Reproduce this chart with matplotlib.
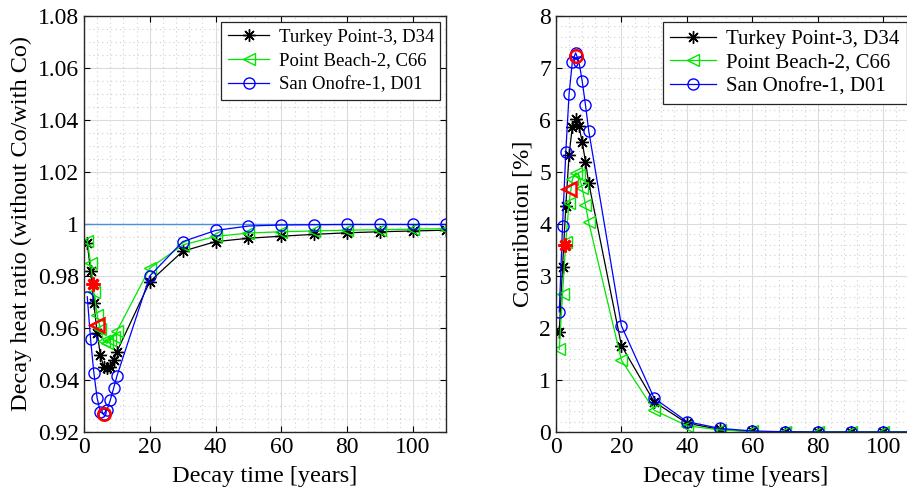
import matplotlib.pyplot as plt
from matplotlib.ticker import MultipleLocator

plt.rcParams['font.family'] = ['Liberation Serif', 'DejaVu Serif']
plt.rcParams['mathtext.fontset'] = 'stix'

# decay times [years]
t = [1, 2, 3, 4, 5, 6, 7, 8, 9, 10, 20, 30, 40, 50, 60, 70, 80, 90, 100, 110]

# decay heat ratio (without Co / with Co)
ratio_tp = [0.9926, 0.982, 0.9695, 0.958, 0.9496, 0.9449, 0.9445, 0.9451, 0.9477, 0.9509,
            0.9778, 0.9895, 0.9932, 0.9945, 0.9953, 0.996, 0.9966, 0.997, 0.9973, 0.9976]
ratio_pb = [0.9935, 0.985, 0.974, 0.965, 0.9595, 0.955, 0.9541, 0.9554, 0.9567, 0.9588,
            0.983, 0.9919, 0.9952, 0.9965, 0.997, 0.9973, 0.9976, 0.9978, 0.998, 0.9982]
ratio_so = [0.972, 0.9557, 0.9428, 0.933, 0.9276, 0.927, 0.9285, 0.9323, 0.9368, 0.9415,
            0.980, 0.9932, 0.9975, 0.9992, 0.9996, 0.9997, 0.9998, 0.9998, 0.9998, 0.9998]

# Co-60 contribution [%]
contr_tp = [1.93, 3.17, 4.35, 5.33, 5.87, 6.02, 5.88, 5.58, 5.2, 4.79,
            1.66, 0.58, 0.17, 0.05, 0.01, 0.005, 0.0, 0.0, 0.0, 0.0]
contr_pb = [1.59, 2.65, 3.66, 4.41, 4.86, 4.98, 4.94, 4.69, 4.37, 4.03,
            1.38, 0.42, 0.12, 0.04, 0.01, 0.0, 0.0, 0.0, 0.0, 0.0]
contr_so = [2.31, 3.96, 5.39, 6.5, 7.12, 7.29, 7.12, 6.75, 6.29, 5.79,
            2.04, 0.65, 0.2, 0.07, 0.02, 0.005, 0.0, 0.0, 0.0, 0.0]

# actual cooling time of each assembly (highlighted in red)
t_mark = [2.6, 4.0, 6.2]
ratio_mark = [0.977, 0.961, 0.927]
contr_mark = [3.6, 4.67, 7.23]

labels = ['Turkey Point-3, D34', 'Point Beach-2, C66', 'San Onofre-1, D01']
asterisk = (8, 2, 0)
styles = [dict(color='black', marker=asterisk, ms=9, mew=1.0),
          dict(color='#00e600', marker='<', ms=8, mfc='none'),
          dict(color='blue', marker='o', ms=8, mfc='none')]
red_styles = [dict(marker=asterisk, ms=10, mew=2.0), dict(marker='<', ms=10, mfc='none', mew=1.8),
              dict(marker='o', ms=9, mfc='none', mew=1.8)]

fig = plt.figure(figsize=(9.07, 4.96), dpi=100)
ax1 = fig.add_axes([0.0926, 0.129, 0.399, 0.839])
ax2 = fig.add_axes([0.613, 0.129, 0.397, 0.839])

for ax in (ax1, ax2):
    ax.set_axisbelow(True)
    ax.grid(which='major', color='#dcdcdc', linewidth=0.8, linestyle='-')
    ax.grid(which='minor', color='#d0d0d0', linewidth=0.8, linestyle=(0, (1, 3)))
    ax.tick_params(which='both', direction='in', top=True, right=True, labelsize=17)
    ax.tick_params(which='minor', length=0)
    ax.tick_params(which='major', length=4)
    for s in ax.spines.values():
        s.set_color('#262626')
        s.set_linewidth(1.0)
    ax.set_xlim(0, 110)
    ax.set_xticks([0, 20, 40, 60, 80, 100])
    ax.xaxis.set_minor_locator(MultipleLocator(4))
    ax.set_xlabel('Decay time [years]', fontsize=17.5, labelpad=6)

# left: decay heat ratio
ax1.axhline(1.0, color='#4a8fdc', linewidth=1.0, zorder=1)
for y, st, lab in zip([ratio_tp, ratio_pb, ratio_so], styles, labels):
    ax1.plot(t, y, linewidth=0.9, label=lab, **st)
for tm, ym, rs in zip(t_mark, ratio_mark, red_styles):
    ax1.plot(tm, ym, color='red', linestyle='none', zorder=5, **rs)
ax1.set_ylim(0.92, 1.08)
ax1.set_yticks([0.92, 0.94, 0.96, 0.98, 1.0, 1.02, 1.04, 1.06, 1.08])
ax1.set_yticklabels(['0.92', '0.94', '0.96', '0.98', '1', '1.02', '1.04', '1.06', '1.08'])
ax1.yaxis.set_minor_locator(MultipleLocator(0.005))
ax1.set_ylabel('Decay heat ratio (without Co/with Co)', fontsize=17.5)

# right: contribution
for y, st, lab in zip([contr_tp, contr_pb, contr_so], styles, labels):
    ax2.plot(t, y, linewidth=0.9, label=lab, **st)
for tm, ym, rs in zip(t_mark, contr_mark, red_styles):
    ax2.plot(tm, ym, color='red', linestyle='none', zorder=5, **rs)
ax2.set_ylim(0, 8)
ax2.set_yticks(range(0, 9))
ax2.yaxis.set_minor_locator(MultipleLocator(0.2))
ax2.set_ylabel('Contribution [%]', fontsize=17.5)

for ax, anchor, fs, sp in ((ax1, (0.985, 0.985), 13.5, 0.35), (ax2, (0.975, 0.985), 15, 0.2)):
    leg = ax.legend(loc='upper right', bbox_to_anchor=anchor, fontsize=fs,
                    fancybox=False, framealpha=1, edgecolor='#262626',
                    handlelength=2.2, borderpad=0.35, labelspacing=sp,
                    handletextpad=0.5, borderaxespad=0)
    leg.get_frame().set_linewidth(0.9)

fig.savefig('out.png', dpi=100)
